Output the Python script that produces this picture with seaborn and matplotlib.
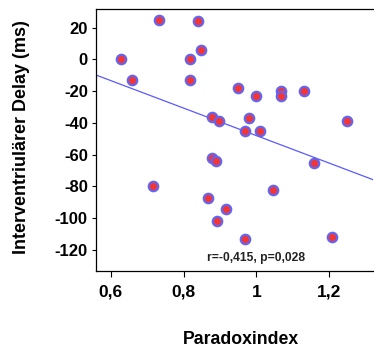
import matplotlib
matplotlib.use("Agg")
import matplotlib.pyplot as plt
import seaborn as sns
import pandas as pd

paradox_index = [0.628, 0.659, 0.732, 0.717, 0.819, 0.819, 0.839, 0.848, 0.878, 0.898,
                 0.878, 0.889, 0.868, 0.918, 0.891, 0.949, 0.981, 0.968, 1.009, 1.000,
                 0.969, 1.068, 1.068, 1.132, 1.047, 1.157, 1.248, 1.209]
delay_ms = [0, -13, 25, -80, 0, -13, 24, 6, -36, -39,
            -62, -64, -87, -94, -102, -18, -37, -45, -45, -23,
            -113, -20, -23, -20, -82, -65, -39, -112]
x_ticks = [0.6, 0.8, 1.0, 1.2]
x_tick_labels = ["0,6", "0,8", "1", "1,2"]
y_ticks = [20, 0, -20, -40, -60, -80, -100, -120]
y_tick_labels = ["20", "0", "-20", "-40", "-60", "-80", "-100", "-120"]
annotation = "r=-0,415, p=0,028"

df = pd.DataFrame({"Paradoxindex": paradox_index, "Delay": delay_ms})

sns.set_style("ticks")
plt.rcParams["font.family"] = ["Liberation Sans", "DejaVu Sans"]
plt.rcParams["text.color"] = "black"
plt.rcParams["axes.labelcolor"] = "black"

fig = plt.figure(figsize=(3.74, 3.52), dpi=100)
ax = fig.add_axes([0.257, 0.230, 0.740, 0.744])

ax.set_xlim(0.560, 1.320)
ax.set_ylim(-133.3, 31.7)

sns.regplot(data=df, x="Paradoxindex", y="Delay", ax=ax, ci=None, truncate=False,
            scatter_kws=dict(s=46, color="#f23636", edgecolors="#6464ee", linewidths=1.6,
                             alpha=1, zorder=3),
            line_kws=dict(color="#5a5aff", linewidth=0.9, zorder=2))

ax.set_xlim(0.560, 1.320)
ax.set_ylim(-133.3, 31.7)
ax.set_xticks(x_ticks)
ax.set_xticklabels(x_tick_labels, fontsize=12.5, fontweight="bold")
ax.set_yticks(y_ticks)
ax.set_yticklabels(y_tick_labels, fontsize=12, fontweight="bold")
ax.tick_params(axis="x", length=4, width=0.8, pad=6, colors="black")
ax.tick_params(axis="y", length=3, width=0.8, pad=3, colors="black")

for side in ["left", "bottom", "top"]:
    ax.spines[side].set_color("black")
    ax.spines[side].set_linewidth(0.9)
ax.spines["right"].set_visible(False)

ax.set_xlabel("Paradoxindex", fontsize=12.7, fontweight="bold")
ax.set_ylabel("Interventriulärer Delay (ms)", fontsize=13, fontweight="bold")
ax.xaxis.set_label_coords(0.523, -0.263)
ax.xaxis.label.set_va("center")
ax.yaxis.set_label_coords(-0.268, 0.51)
ax.yaxis.label.set_va("center")

ax.text(1.0, -125, annotation, ha="center", va="center", fontsize=8.7, fontweight="bold",
        color="#222222")

fig.savefig("out.png", dpi=100)
